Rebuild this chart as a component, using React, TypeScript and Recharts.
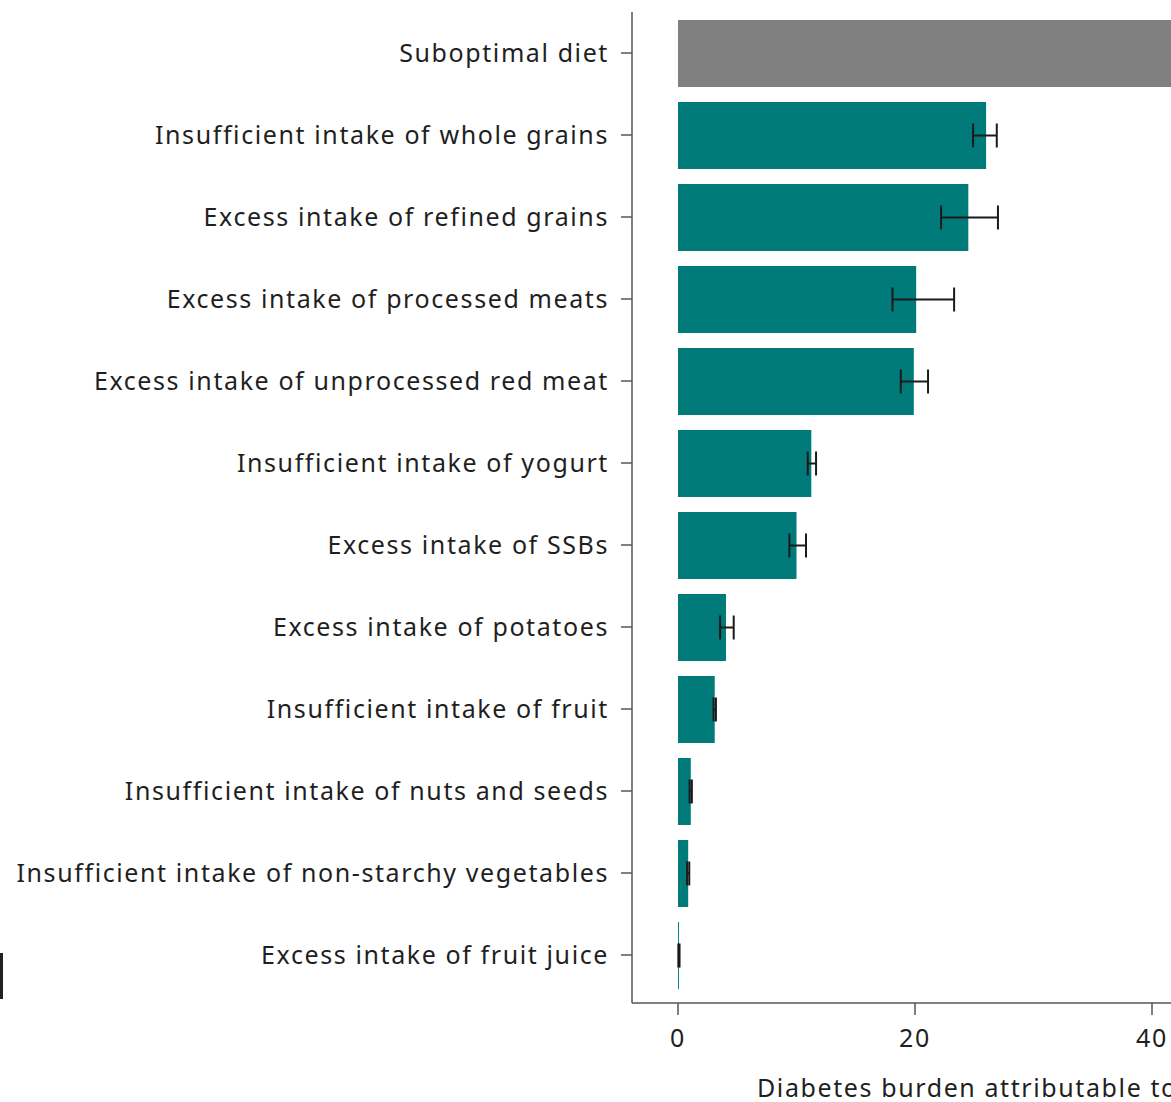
import { BarChart, Bar, XAxis, YAxis, ErrorBar, Cell, Label } from "recharts";

const categories = [
  "Suboptimal diet",
  "Insufficient intake of whole grains",
  "Excess intake of refined grains",
  "Excess intake of processed meats",
  "Excess intake of unprocessed red meat",
  "Insufficient intake of yogurt",
  "Excess intake of SSBs",
  "Excess intake of potatoes",
  "Insufficient intake of fruit",
  "Insufficient intake of nuts and seeds",
  "Insufficient intake of non-starchy vegetables",
  "Excess intake of fruit juice",
];

// % of burden, point estimate and uncertainty interval
const values = [70.3, 26.0, 24.5, 20.1, 19.9, 11.25, 10.0, 4.05, 3.1, 1.08, 0.86, 0.08];
const lower = [70.3, 24.9, 22.2, 18.1, 18.8, 10.95, 9.4, 3.55, 3.0, 0.98, 0.77, 0.03];
const upper = [70.3, 26.9, 27.0, 23.3, 21.1, 11.65, 10.8, 4.7, 3.2, 1.17, 0.95, 0.13];

const xTicks = [0, 20, 40, 60, 80];

const TEAL = "#007b7a";
const GREY = "#808080";
const TEXT = "#1f1f1f";
const AXIS = "#555";

const data = categories.map((name, i) => ({
  name,
  value: values[i],
  err: [values[i] - lower[i], upper[i] - values[i]],
}));

const AxisTitle = ({ viewBox }: any) => (
  <text x={viewBox.x + 125} y={viewBox.y + 94} fontSize={25} fill={TEXT}>
    Diabetes burden attributable to diet (%)
  </text>
);

const App = () => {
  return (
    <div
      style={{
        position: "fixed",
        left: 0,
        top: 0,
        width: 1171,
        height: 1102,
        overflow: "hidden",
        background: "#fff",
        fontFamily: "'Noto Sans', sans-serif",
        letterSpacing: "1.6px",
      }}
    >
      <BarChart
        width={1666}
        height={1102}
        data={data}
        layout="vertical"
        margin={{ top: 12, right: 40, left: 0, bottom: 0 }}
      >
        <XAxis
          type="number"
          domain={[0, 80]}
          ticks={xTicks}
          padding={{ left: 46, right: 0 }}
          height={99}
          stroke={AXIS}
          strokeWidth={1.5}
          tickSize={12}
          tickMargin={14}
          tick={{ fill: TEXT, fontSize: 25 }}
        >
          <Label content={AxisTitle} />
        </XAxis>
        <YAxis
          type="category"
          dataKey="name"
          width={632}
          interval={0}
          padding={{ top: 0, bottom: 7 }}
          stroke={AXIS}
          strokeWidth={1.5}
          tickSize={11}
          tickMargin={12}
          tick={{ fill: TEXT, fontSize: 25 }}
        />
        <Bar dataKey="value" barSize={67} isAnimationActive={false}>
          {data.map((d, i) => (
            <Cell key={d.name} fill={i === 0 ? GREY : TEAL} />
          ))}
          <ErrorBar
            dataKey="err"
            direction="x"
            width={12}
            stroke="#1a1a1a"
            strokeWidth={2}
            isAnimationActive={false}
          />
        </Bar>
      </BarChart>
      <div
        style={{
          position: "absolute",
          left: 0,
          top: 953,
          width: 3,
          height: 46,
          background: "#222",
        }}
      />
    </div>
  );
};

export default App;
